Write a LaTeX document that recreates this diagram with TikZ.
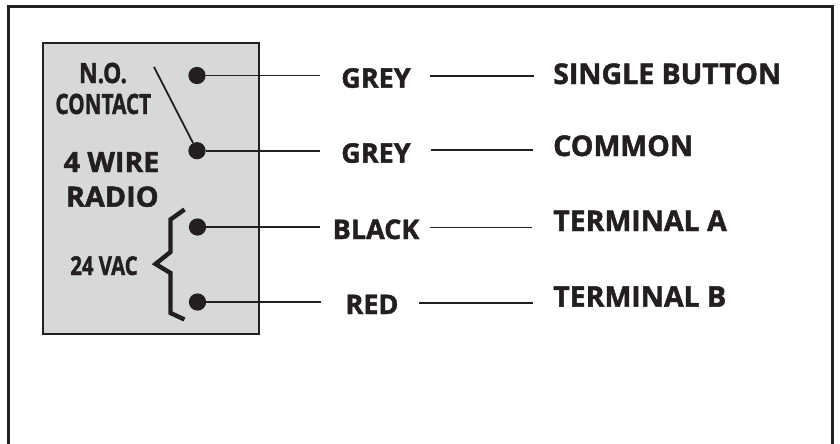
\documentclass[tikz,border=0pt]{standalone}
\usepackage{fontspec}
\setmainfont[BoldFeatures={FakeBold=1.6}]{Open Sans}
\definecolor{ink}{HTML}{231F20}
\definecolor{panel}{HTML}{D7D8DA}
\tikzset{
  x=1pt,y=-1pt,
  wire/.style={draw=ink,line width=1.7pt},
  term/.style={circle,fill=ink,minimum size=17.3pt,inner sep=0pt},
  lab/.style={text=ink,font=\bfseries\fontsize{28.5}{32}\selectfont,inner sep=0pt,anchor=base west},
  colour/.style={text=ink,font=\bfseries\fontsize{27}{30}\selectfont,inner sep=0pt,anchor=base},
  radio/.style={text=ink,font=\bfseries\fontsize{28}{30}\selectfont,inner sep=0pt,anchor=base},
}
\newcommand{\narrow}[2][.8]{\scalebox{#1}[1]{#2}}
\begin{document}
\begin{tikzpicture}
\useasboundingbox (0,0) rectangle (840,444);
\fill[white] (0,0) rectangle (840,444);
\coordinate (fa) at (8.5,444);
\coordinate (fb) at (8.5,6.5);
\coordinate (fc) at (832.5,6.5);
\coordinate (fd) at (832.5,444);
\draw[draw=ink,line width=2.4pt] (fa) -- (fb) -- (fc) -- (fd);
\node[draw=ink,fill=panel,line width=2.2pt,minimum width=216pt,minimum height=290.5pt,inner sep=0pt] (box) at (151,188.5) {};
\node[term] (d1) at (197,75.5) {};
\node[term] (d2) at (197,150.7) {};
\node[term] (d3) at (197.5,227) {};
\node[term] (d4) at (197.5,302) {};
\coordinate (sw) at (154,67);
\draw[draw=ink,line width=1.8pt] (sw) -- (d2);
\node[radio] (no) at (103,83) {\narrow[.82]{N.O.}};
\node[radio] (ct) at (103.3,114) {\narrow[.74]{CONTACT}};
\node[radio] (w4) at (111.5,172) {\narrow[1.02]{4 WIRE}};
\node[radio] (ra) at (112.3,206.7) {\narrow[1.03]{RADIO}};
\node[radio,font=\bfseries\fontsize{26}{28}\selectfont] (vac) at (104,275) {\narrow[.78]{24 VAC}};
\draw[draw=ink,line width=4.4pt,miter limit=6] (184.5,209.5) -- (170.5,219.5) -- (170.5,252) -- (155.5,264) -- (170.5,273) -- (170.5,313) -- (184.5,319.5);
\node[colour] (g1) at (376,87.7) {GREY};
\node[colour] (g2) at (376,162.7) {GREY};
\node[colour] (bk) at (376,239) {BLACK};
\node[colour] (rd) at (372,314) {RED};
\node[lab] (t1) at (553,84) {SINGLE BUTTON};
\node[lab] (t2) at (553,156) {COMMON};
\node[lab] (t3) at (553,231) {TERMINAL A};
\node[lab] (t4) at (553,306.7) {TERMINAL B};
\coordinate (a1) at (320,75.5);
\coordinate (a2) at (320,150.7);
\coordinate (a3) at (320,227);
\coordinate (a4) at (321,302);
\coordinate (b1) at (430,76);
\coordinate (b2) at (431,149.7);
\coordinate (b3) at (430,227.5);
\coordinate (b4) at (419,303);
\coordinate (c1) at (533.5,76);
\coordinate (c2) at (533,149.7);
\coordinate (c3) at (532,227.5);
\coordinate (c4) at (533,303);
\draw[wire] (d1) -- (a1);
\draw[wire] (d2) -- (a2);
\draw[wire] (d3) -- (a3);
\draw[wire] (d4) -- (a4);
\draw[wire] (b1) -- (c1);
\draw[wire] (b2) -- (c2);
\draw[wire] (b3) -- (c3);
\draw[wire] (b4) -- (c4);
\end{tikzpicture}
\end{document}
